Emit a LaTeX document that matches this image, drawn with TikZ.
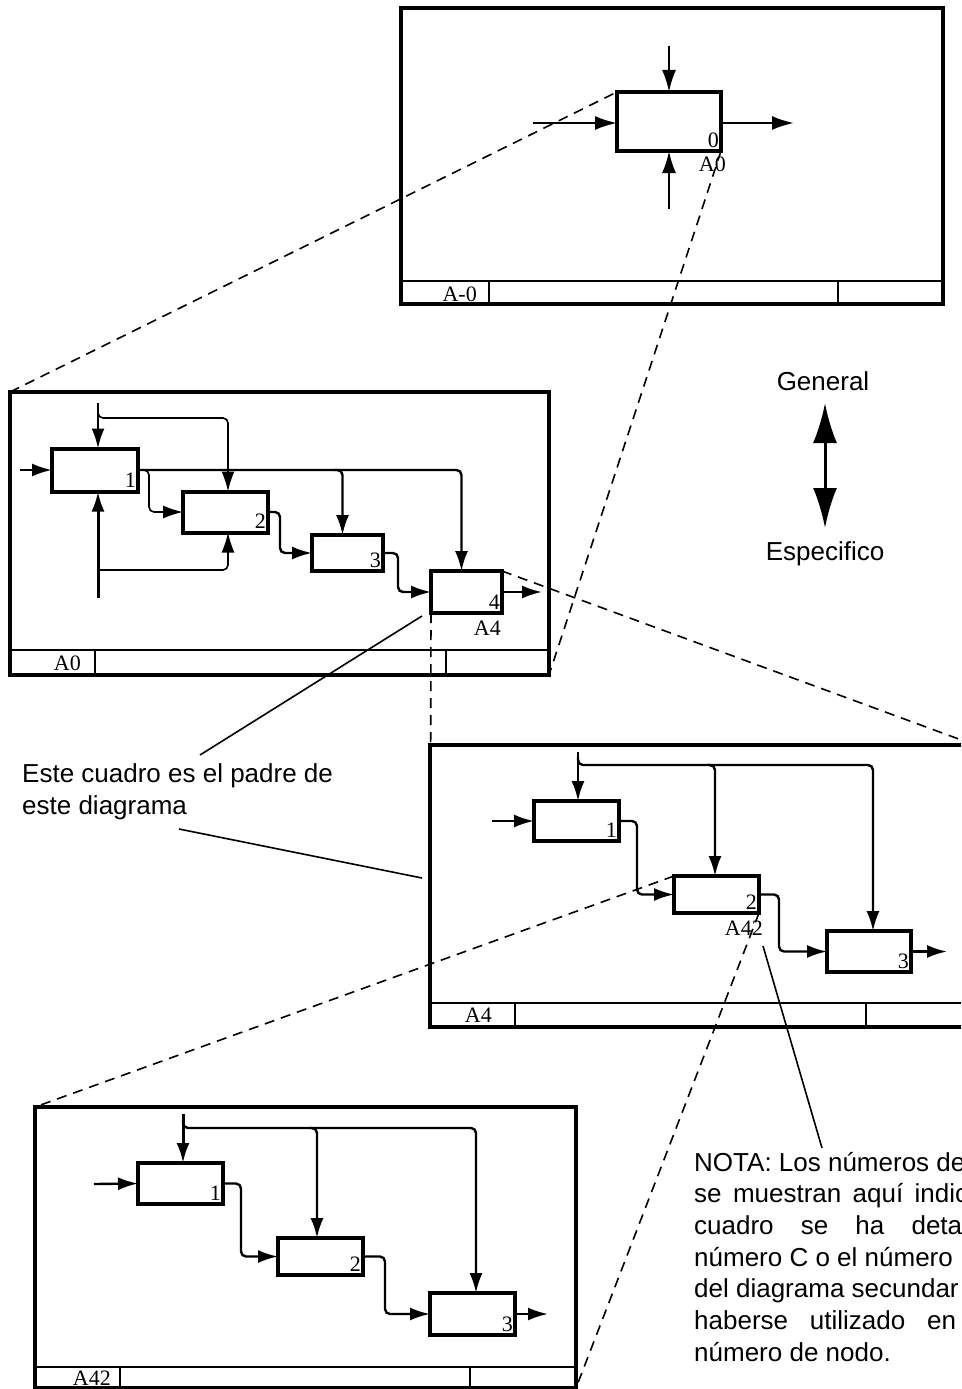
\documentclass[tikz,border=0pt]{standalone}
\usepackage{fontspec}
\setmainfont{Liberation Sans}
\newfontfamily\idefserif{Liberation Serif}
\usetikzlibrary{arrows.meta,calc}
\begin{document}
\begin{tikzpicture}[x=1pt,y=-1pt,
  frame/.style={draw, line width=3.5pt, inner sep=0pt, outer sep=0pt, anchor=north west},
  foot/.style={line width=2.8pt},
  footthin/.style={line width=1.3pt},
  abox/.style={draw, line width=4pt, fill=white, inner sep=0pt, outer sep=0pt},
  arr/.style={line width=2.4pt, -{Latex[length=20pt,width=13pt]}},
  bigarr/.style={line width=2.2pt, -{Latex[length=22pt,width=14pt]}},
  link/.style={arr, rounded corners=5pt},
  zoomline/.style={line width=1.6pt, dash pattern=on 10pt off 7pt},
  leader/.style={line width=1.6pt},
  num/.style={font=\idefserif\fontsize{22}{26}\selectfont, inner sep=0pt},
  txt/.style={font=\fontsize{26}{31}\selectfont, inner sep=0pt, anchor=base west},
]
\fill[white] (0,0) rectangle (961,1389);
\useasboundingbox (0,0) rectangle (961,1389);
\clip (0,0) rectangle (961,1389);

% ---------------- Top frame A-0 ----------------
\node[frame, minimum width=542pt, minimum height=296pt] (FT) at (401,8) {};
\draw[foot] ($(FT.south west)+(0,-23)$) -- ($(FT.south east)+(0,-23)$);
\draw[foot] ($(FT.south west)+(88,-23)$) -- ($(FT.south west)+(88,0)$);
\draw[foot] ($(FT.south west)+(437,-23)$) -- ($(FT.south west)+(437,0)$);
\node[num, anchor=base east] (lT) at ($(FT.south west)+(76,-3)$) {A-0};

\node[abox, minimum width=104pt, minimum height=59pt] (bA0) at (669,121.5) {};
\coordinate (tC) at (669,46);
\coordinate (tI) at (533,123);
\coordinate (tO) at (794,123);
\coordinate (tM) at (669,209);
\draw[bigarr] (tC) -- (bA0.north);
\draw[bigarr] (tI) -- (tI -| bA0.west);
\draw[bigarr] (tO -| bA0.east) -- (tO);
\draw[bigarr] (tM) -- (bA0.south);
\node[num, anchor=base east] at ($(bA0.south east)+(-2,-4)$) {0};
\node[num, anchor=base east] (lA0) at ($(bA0.south east)+(5,20)$) {A0};

% ---------------- Frame A0 ----------------
\node[frame, minimum width=539pt, minimum height=283pt] (F0) at (10,392) {};
\draw[foot] ($(F0.south west)+(0,-25)$) -- ($(F0.south east)+(0,-25)$);
\draw[foot] ($(F0.south west)+(85,-25)$) -- ($(F0.south west)+(85,0)$);
\draw[foot] ($(F0.south west)+(436,-25)$) -- ($(F0.south west)+(436,0)$);
\node[num, anchor=base east] (lF0) at ($(F0.south west)+(71,-5)$) {A0};

\node[abox, minimum width=86pt, minimum height=43pt] (b1) at (95,470) {};
\node[abox, minimum width=85pt, minimum height=41pt] (b2) at (225.5,512) {};
\node[abox, minimum width=71pt, minimum height=36pt] (b3) at (347.5,553) {};
\node[abox, minimum width=71pt, minimum height=42pt] (b4) at (466.5,592) {};
\foreach \b/\n in {b1/1,b2/2,b3/3,b4/4}
  \node[num, anchor=base east] at ($(\b.south east)+(-2,-4)$) {\n};

\coordinate (a0in) at (20,470);
\draw[arr] (a0in) -- (b1.west);
\coordinate (a0c) at (98,403);
\draw[arr] (a0c) -- (a0c |- b1.north);
\coordinate (a0cb) at (98,409);
\coordinate (a0c2) at (228,418);
\draw[link, line width=1.6pt] (a0cb) |- (a0c2) -- (a0c2 |- b2.north);
\coordinate (a0m) at (98,598);
\draw[arr, line width=3pt] (a0m) -- (a0m |- b1.south);
\coordinate (a0mb) at (98,570);
\coordinate (a0m2) at (228,570);
\draw[link, line width=1.6pt] (a0mb) -- (a0m2) -- (a0m2 |- b2.south);
\coordinate (a0x4) at (461.5,470);
\draw[link] (b1.east) -| (a0x4 |- b4.north);
\coordinate (a0x3s) at (334,470);
\coordinate (a0x3) at (342.5,470);
\draw[link] (a0x3s) -| (a0x3 |- b3.north);
\coordinate (a0x2) at (149,470);
\draw[link, line width=1.6pt] (b1.east) -| (a0x2 |- b2.west) -- (b2.west);
\coordinate (a0x23) at (280,0);
\draw[link] (b2.east) -| (a0x23 |- b3.west) -- (b3.west);
\coordinate (a0x34) at (398,0);
\draw[link] (b3.east) -| (a0x34 |- b4.west) -- (b4.west);
\coordinate (a0out) at (542,592);
\draw[arr] (b4.east) -- (a0out);
\node[num, anchor=base east] (lA4) at ($(b4.south east)+(-1,22)$) {A4};

% ---------------- Frame A4 ----------------
\node[frame, minimum width=545pt, minimum height=282pt] (F4) at (430,745) {};
\draw[foot] ($(F4.south west)+(0,-24)$) -- ($(F4.south east)+(0,-24)$);
\draw[foot] ($(F4.south west)+(85,-24)$) -- ($(F4.south west)+(85,0)$);
\draw[footthin] ($(F4.south west)+(436,-24)$) -- ($(F4.south west)+(436,0)$);
\node[num, anchor=base east] (lF4) at ($(F4.south west)+(62,-5)$) {A4};

\node[abox, minimum width=85pt, minimum height=40pt] (B1) at (576.5,821) {};
\node[abox, minimum width=85pt, minimum height=37pt] (B2) at (716.5,894.5) {};
\node[abox, minimum width=84pt, minimum height=41pt] (B3) at (869,951.5) {};
\foreach \b/\n in {B1/1,B2/2,B3/3}
  \node[num, anchor=base east] at ($(\b.south east)+(-2,-4)$) {\n};

\coordinate (a4in) at (492,821);
\draw[arr] (a4in) -- (B1.west);
\coordinate (a4c) at (578,752);
\draw[arr] (a4c) -- (a4c |- B1.north);
\coordinate (a4cb) at (578,757);
\coordinate (a4c3) at (873,765);
\draw[link] (a4cb) |- (a4c3) -- (a4c3 |- B3.north);
\coordinate (a4c2s) at (708,765);
\coordinate (a4c2) at (715,765);
\draw[link] (a4c2s) -| (a4c2 |- B2.north);
\coordinate (a4x12) at (637,0);
\draw[link] (B1.east) -| (a4x12 |- B2.west) -- (B2.west);
\coordinate (a4x23) at (779,0);
\draw[link] (B2.east) -| (a4x23 |- B3.west) -- (B3.west);
\coordinate (a4out) at (947,951.5);
\draw[arr] (B3.east) -- (a4out);
\node[num, anchor=base east] (lA42) at ($(B2.south east)+(4,22)$) {A42};

% ---------------- Frame A42 ----------------
\node[frame, minimum width=541pt, minimum height=281pt] (F42) at (35,1107) {};
\draw[foot] ($(F42.south west)+(0,-21)$) -- ($(F42.south east)+(0,-21)$);
\draw[foot] ($(F42.south west)+(85,-21)$) -- ($(F42.south west)+(85,0)$);
\draw[footthin] ($(F42.south west)+(435,-21)$) -- ($(F42.south west)+(435,0)$);
\node[num, anchor=base east] (lF42) at ($(F42.south west)+(76,-3)$) {A42};

\node[abox, minimum width=85pt, minimum height=41pt] (C1) at (180.5,1183.5) {};
\node[abox, minimum width=85pt, minimum height=37pt] (C2) at (320.5,1256.5) {};
\node[abox, minimum width=85pt, minimum height=42pt] (C3) at (472.5,1314) {};
\foreach \b/\n in {C1/1,C2/2,C3/3}
  \node[num, anchor=base east] at ($(\b.south east)+(-2,-4)$) {\n};

\coordinate (a42in) at (94,1184);
\draw[arr] (a42in) -- (C1.west);
\coordinate (a42c) at (183,1114);
\draw[arr, line width=3pt] (a42c) -- (a42c |- C1.north);
\coordinate (a42cb) at (183,1120);
\coordinate (a42c3) at (476,1128);
\draw[link] (a42cb) |- (a42c3) -- (a42c3 |- C3.north);
\coordinate (a42c2s) at (310,1128);
\coordinate (a42c2) at (317,1128);
\draw[link] (a42c2s) -| (a42c2 |- C2.north);
\coordinate (a42x12) at (241,0);
\draw[link] (C1.east) -| (a42x12 |- C2.west) -- (C2.west);
\coordinate (a42x23) at (385,0);
\draw[link] (C2.east) -| (a42x23 |- C3.west) -- (C3.west);
\coordinate (a42out) at (548,1314);
\draw[arr] (C3.east) -- (a42out);

% ---------------- Zoom (dashed) lines ----------------
\draw[zoomline] (F0.north west) -- (bA0.north west);
\draw[zoomline] (bA0.south east) -- (F0.south east);
\draw[zoomline] (b4.north east) -- (F4.north east);
\draw[zoomline] (b4.south west) -- (F4.south west);
\draw[zoomline] (B2.north west) -- (F42.north west);
\draw[zoomline] (B2.south east) -- (F42.south east);

% ---------------- General / Especifico ----------------
\node[txt, anchor=base] (gen) at (823,390) {General};
\node[txt, anchor=base] (esp) at (825,560) {Especifico};
\coordinate (ga) at (825,403);
\coordinate (ea) at (825,528);
\draw[line width=3pt, {Latex[length=40pt,width=24pt]}-{Latex[length=40pt,width=24pt]}] (ga) -- (ea);

% ---------------- Annotations ----------------
\node[txt] (t1) at (22,782) {Este cuadro es el padre de};
\node[txt] (t2) at (22,814) {este diagrama};
\coordinate (ld1a) at (422,616);
\coordinate (ld1b) at (200,755);
\draw[leader] (ld1a) -- (ld1b);
\coordinate (ld2a) at (179,829);
\coordinate (ld2b) at (422,878);
\draw[leader] (ld2a) -- (ld2b);

\node[txt] (n1) at (694,1171) {NOTA: Los números de};
\node[txt] (n2) at (694,1202.7) {\makebox[274pt][s]{se muestran aquí indic}};
\node[txt] (n3) at (694,1234.4) {\makebox[268pt][s]{cuadro se ha deta}};
\node[txt] (n4) at (694,1266) {número C o el número};
\node[txt] (n5) at (694,1297.8) {del diagrama secundar};
\node[txt] (n6) at (694,1329.5) {\makebox[262pt][s]{haberse utilizado en}};
\node[txt] (n7) at (694,1361) {número de nodo.};
\coordinate (ld3a) at (763,946);
\coordinate (ld3b) at (822,1148);
\draw[leader] (ld3a) -- (ld3b);
\end{tikzpicture}
\end{document}
